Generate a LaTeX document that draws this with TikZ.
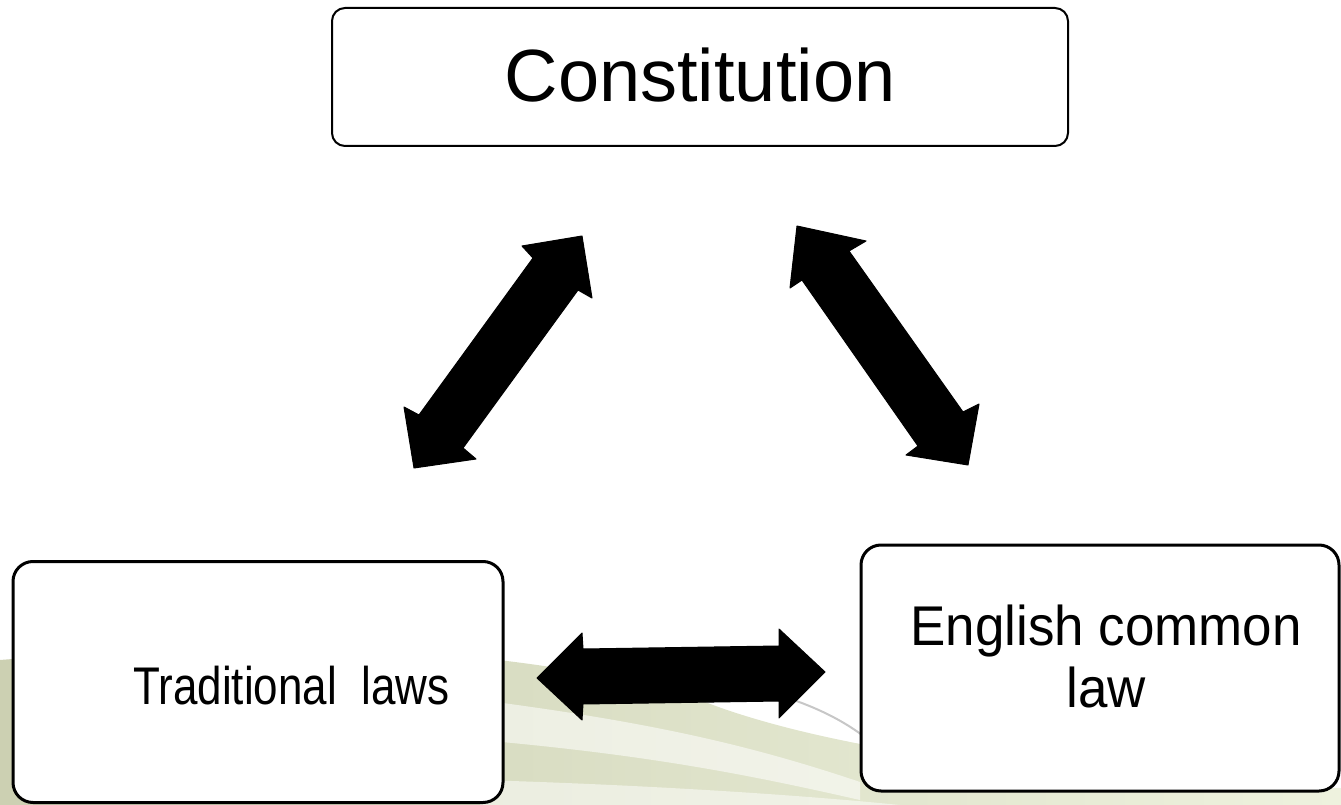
\documentclass[tikz,border=0pt]{standalone}
\usepackage{fontspec}
\setmainfont{Liberation Sans}
\begin{document}
\begin{tikzpicture}[x=1pt,y=-1pt,
  box/.style={draw=black,fill=white,rounded corners=20pt,line width=3pt,inner sep=0pt},
  topbox/.style={draw=black,fill=white,rounded corners=13pt,line width=2pt,inner sep=0pt},
  blockarrow/.style={fill=black,draw=black,line width=1pt,line join=round},
  lbl/.style={inner sep=0pt,align=center}]
\useasboundingbox (0,0) rectangle (1341,805);
\definecolor{bgA}{RGB}{238,242,222}
\definecolor{bgB}{RGB}{204,208,178}
% background swoosh
\shade[left color=bgB,right color=bgA] (0,660) .. controls (250,640) and (500,640) .. (700,700) .. controls (800,740) and (1000,780) .. (1341,788) -- (1341,805) -- (0,805) -- cycle;
\fill[white,opacity=0.55] (480,700) .. controls (650,722) and (750,745) .. (860,782) -- (860,800) .. controls (750,775) and (650,755) .. (480,740) -- cycle;
\fill[white,opacity=0.5] (480,780) .. controls (650,785) and (800,795) .. (900,805) -- (480,805) -- cycle;
\draw[black!22,line width=2pt] (760,690) .. controls (800,700) and (835,715) .. (862,735);
% boxes
\node[topbox,minimum width=736pt,minimum height=138pt] (con) at (700,77) {};
\node[box,minimum width=490pt,minimum height=241pt] (trad) at (258,682) {};
\node[box,minimum width=478pt,minimum height=246pt] (eng) at (1100,668) {};
% labels
\node[lbl,font=\fontsize{74pt}{80pt}\selectfont] (conl) at (700,75) {Constitution};
\node[lbl,font=\fontsize{53pt}{60pt}\selectfont,anchor=base west] (tradl) at (133,704) {\scalebox{0.83}[1]{Traditional\ \ laws}};
\node[lbl,anchor=base] (engl) at (1106,670) {\scalebox{0.945}[1]{\fontsize{56pt}{62pt}\selectfont\begin{tabular}{@{}c@{}}English common\\law\end{tabular}}};
% block arrows
\coordinate (a1t) at (582,236);
\coordinate (a1b) at (414,468);
\fill[blockarrow] (a1t) -- (592,298) -- (578,290) -- (463,448) -- (476,459) -- (a1b) -- (404,407) -- (419,415) -- (533,258) -- (522,246) -- cycle;
\coordinate (a2t) at (797,226);
\coordinate (a2b) at (968,465);
\fill[blockarrow] (a2t) -- (866,241) -- (849,251) -- (963,412) -- (979,404) -- (a2b) -- (906,455) -- (918,446) -- (802,280) -- (790,288) -- cycle;
\coordinate (a3l) at (537,678);
\coordinate (a3r) at (825,672);
\fill[blockarrow] (a3l) -- (582,633) -- (583,649) -- (779,646) -- (779,629) -- (a3r) -- (779,718) -- (779,701) -- (583,704) -- (582,720) -- cycle;
\end{tikzpicture}
\end{document}
